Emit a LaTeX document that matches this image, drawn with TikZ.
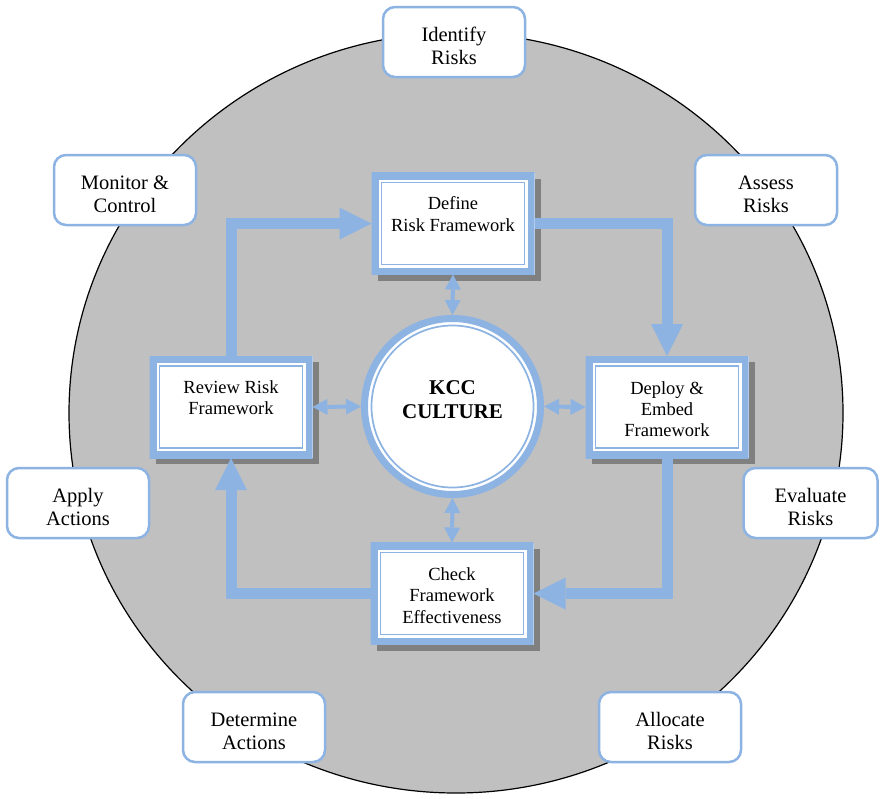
\documentclass[tikz,border=0pt]{standalone}
\usepackage{fontspec}
\setmainfont{Liberation Serif}
\usetikzlibrary{arrows.meta,shadows}
\definecolor{kccblue}{HTML}{8DB3E2}
\definecolor{ringgray}{HTML}{C0C0C0}
\newcommand{\tallline}{\rule{0pt}{22pt}}
\tikzset{
  riskbox/.style={draw=kccblue, line width=2.5pt, fill=white, rounded corners=12pt,
    minimum width=142pt, minimum height=70pt, align=center,
    font=\fontsize{20.5}{22.5}\selectfont},
  stepbox/.style={fill=white, minimum width=163pt, minimum height=102pt,
    inner sep=0pt, outer sep=0pt, align=center, font=\fontsize{18.5}{21.3}\selectfont,
    drop shadow={shadow xshift=6pt, shadow yshift=-6pt, fill=black!50, opacity=1},
    path picture={
      \draw[kccblue, line width=14pt] (path picture bounding box.south west)
        rectangle (path picture bounding box.north east);
      \draw[kccblue, line width=1.7pt] ([shift={(10pt,10pt)}]path picture bounding box.south west)
        rectangle ([shift={(-10pt,-10pt)}]path picture bounding box.north east);
    }},
  culture/.style={circle, draw=kccblue, line width=7pt, fill=white, minimum size=176pt,
    inner sep=0pt, align=center, font=\bfseries\fontsize{21}{24}\selectfont,
    path picture={\draw[kccblue, line width=1.7pt] (path picture bounding box.center) circle (81pt);}},
  flow/.style={draw=kccblue, line width=11pt, -{Triangle[length=32pt, width=32pt, line width=0pt]}},
  link/.style={draw=kccblue, line width=4pt,
    {Triangle[length=15pt, width=16pt, line width=0pt]}-{Triangle[length=15pt, width=16pt, line width=0pt]}}
}
\begin{document}
\begin{tikzpicture}[x=1pt, y=-1pt]
\useasboundingbox (0,0) rectangle (881,798);
\draw[line width=1.2pt, fill=ringgray] (456,413) ellipse [x radius=387pt, y radius=380pt];

\node[riskbox] (identify) at (454,42) {\tallline Identify\\Risks};
\node[riskbox] (assess) at (766,190) {\tallline Assess\\Risks};
\node[riskbox, minimum width=134pt] (evaluate) at (810.5,503) {\tallline Evaluate\\Risks};
\node[riskbox] (allocate) at (670,727) {\tallline Allocate\\Risks};
\node[riskbox] (determine) at (254,727) {\tallline Determine\\Actions};
\node[riskbox] (apply) at (78,503) {\tallline Apply\\Actions};
\node[riskbox] (monitor) at (125,190) {\tallline Monitor \&\\Control};

\node[stepbox] (define) at (453,223.5) {Define\\Risk Framework\\[-2pt]\mbox{}};
\node[stepbox] (deploy) at (667,407) {\rule{0pt}{17pt}Deploy \&\\Embed\\Framework};
\node[stepbox] (check) at (452,593.5) {\rule{0pt}{17pt}Check\\Framework\\Effectiveness};
\node[stepbox] (review) at (231,407) {Review Risk\\Framework\\[-2pt]\mbox{}};
\node[culture] (kcc) at (452.5,406.5) {KCC\\CULTURE\\[-10pt]\mbox{}};

\draw[flow] (review.north) |- (define.west);
\draw[flow] (define.east) -| (deploy.north);
\draw[flow] (deploy.south) |- (check.east);
\draw[flow] (check.west) -| (review.south);

\draw[link] (define.south) -- (kcc.north);
\draw[link] (review.east) -- (kcc.west);
\draw[link] (kcc.east) -- (deploy.west);
\draw[link] (kcc.south) -- (check.north);
\end{tikzpicture}
\end{document}
